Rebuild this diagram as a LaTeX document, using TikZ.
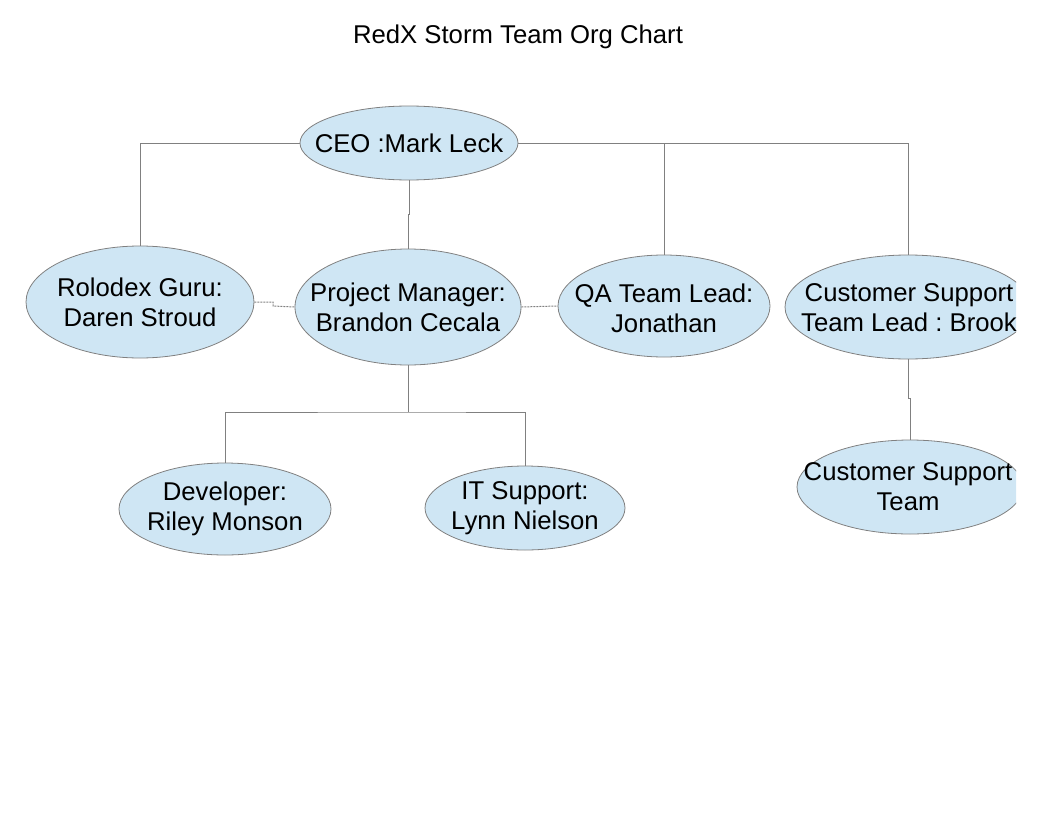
\documentclass[tikz,border=0pt]{standalone}
\usepackage{fontspec}
\setmainfont{Liberation Sans}
\usetikzlibrary{shapes.geometric}
\definecolor{ellfill}{HTML}{CFE6F4}
\definecolor{linegray}{HTML}{808080}
\tikzset{
  elli/.style={ellipse, draw=linegray, line width=0.8pt, fill=ellfill, inner sep=0pt},
  txt/.style={align=center, inner sep=0pt, font=\fontsize{25.7}{30}\selectfont\frenchspacing},
  conn/.style={draw=linegray, line width=1pt},
  dots/.style={draw=linegray, line width=1pt, dash pattern=on 2pt off 1pt},
}
\begin{document}
\begin{tikzpicture}[x=1pt,y=-1pt]
\useasboundingbox (0,0) rectangle (1056,816);
\clip (0,0) rectangle (1016,816);
\node[txt] (title) at (518,37) {RedX Storm Team Org Chart};
% ellipses
\node[elli, minimum width=218pt, minimum height=74pt] (ceo) at (409,143) {};
\node[elli, minimum width=228pt, minimum height=112pt] (rolo) at (140,302) {};
\node[elli, minimum width=226pt, minimum height=116pt] (pm) at (408,307) {};
\node[elli, minimum width=212pt, minimum height=102pt] (qa) at (664,306) {};
\node[elli, minimum width=246pt, minimum height=104pt] (cslead) at (908,307) {};
\node[elli, minimum width=226pt, minimum height=94pt] (csteam) at (910,487) {};
\node[elli, minimum width=212pt, minimum height=92pt] (dev) at (225,509) {};
\node[elli, minimum width=200pt, minimum height=84pt] (it) at (525,508) {};
% texts
\node[txt] (ceot) at (ceo) {CEO :Mark Leck};
\node[txt] (rolot) at (rolo) {Rolodex Guru:\\Daren Stroud};
\node[txt] (pmt) at (pm) {Project Manager:\\Brandon Cecala};
\node[txt] (qat) at (664,308) {QA Team Lead:\\Jonathan};
\node[txt] (csleadt) at (909,308) {Customer Support\\Team Lead : Brook};
\node[txt] (csteamt) at (908,487) {Customer Support\\Team};
\node[txt] (devt) at (225,509) {Developer:\\Riley Monson};
\node[txt] (itt) at (it) {IT Support:\\Lynn Nielson};
% connectors
\coordinate (ceoj) at (409,214);
\coordinate (pmj) at (408,412);
\coordinate (csj) at (908,398);
\coordinate (roloj) at (273,306);
\draw[conn] (ceo.west) -| (rolo.north);
\draw[conn] (ceo.east) -| (qa.north);
\draw[conn] (qa.north |- ceo.east) -| (cslead.north);
\draw[conn] (ceo.south) -- (ceoj) -- (408,214) -- (pm.north);
\draw[conn] (pm.south) -- (pmj);
\draw[conn] (dev.north) |- (pmj) -| (it.north);
\draw[conn] (cslead.south) -- (csj) -- (910,398) -- (csteam.north);
\draw[dots] (rolo.east) -| (roloj) -- (pm.west);
\draw[dots] (pm.east) -- (qa.west);
\end{tikzpicture}
\end{document}
